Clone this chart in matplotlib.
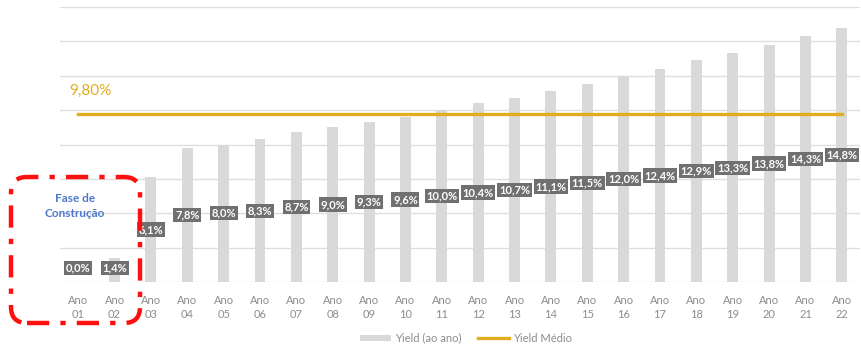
import matplotlib.pyplot as plt
import matplotlib.patches as mpatches
import numpy as np

plt.rcParams['font.family'] = ['Lato', 'DejaVu Sans']

anos = ['01', '02', '03', '04', '05', '06', '07', '08', '09', '10', '11',
        '12', '13', '14', '15', '16', '17', '18', '19', '20', '21', '22']
yield_ano = [0.0, 1.4, 6.1, 7.8, 8.0, 8.3, 8.7, 9.0, 9.3, 9.6, 10.0,
             10.4, 10.7, 11.1, 11.5, 12.0, 12.4, 12.9, 13.3, 13.8, 14.3, 14.8]
yield_medio = 9.80

gray_bar = '#d9d9d9'
gold = '#e2ac1e'
grid_c = '#dedede'

fig = plt.figure(figsize=(8.62, 3.44), dpi=100)
ax = fig.add_axes([60 / 862, 62 / 344, 800 / 862, 275 / 344])

x = np.arange(len(anos))
bars = ax.bar(x, yield_ano, width=0.3, color=gray_bar, zorder=2)
line, = ax.plot([x[0], x[-1]], [yield_medio, yield_medio], color=gold, lw=2.4,
                zorder=3)

ax.set_xlim(-0.5, len(anos) - 0.5)
ax.set_ylim(0, 16)
ax.set_yticks(np.arange(0, 17, 2))
ax.yaxis.grid(True, color=grid_c, lw=1)
ax.set_axisbelow(True)
ax.tick_params(axis='y', left=False, right=False, length=0, labelleft=False)
ax.tick_params(axis='x', bottom=False, pad=6)
for s in ax.spines.values():
    s.set_visible(False)
ax.set_xticks(x)
ax.set_xticklabels(['Ano\n' + a for a in anos], color='#8c8c8c', fontsize=8,
                   linespacing=1.35)

ax.text(-0.25, yield_medio + 1.3, f'{yield_medio:.2f}%'.replace('.', ','),
        color=gold, fontsize=11, ha='left', va='center')

# data labels sit on a secondary scale twice as tall as the bars
ax2 = ax.twinx()
ax2.set_ylim(0, 32)
ax2.axis('off')
for xi, v in zip(x, yield_ano):
    ax2.text(xi, max(v, 1.6), f'{v:.1f}%'.replace('.', ','), ha='center',
             va='center', color='white', fontsize=8, fontweight='bold',
             zorder=5,
             bbox=dict(boxstyle='square,pad=0.15', fc='#707070', ec='none'))

# construction phase frame
frame = mpatches.FancyBboxPatch((11, 21), 129, 146,
                                boxstyle='round,pad=0,rounding_size=16',
                                transform=None, fill=False, ec='#ff1010',
                                lw=3.2, ls=(0, (5, 2.5, 1.2, 2.5)), zorder=10)
fig.patches.append(frame)
fig.text(75 / 862, 1 - 206 / 344, 'Fase de\nConstrução', color='#4f78cc',
         fontsize=8.5, fontweight='bold', ha='center', va='center',
         linespacing=1.35)

fig.legend([bars, line], ['Yield (ao ano)', 'Yield Médio'], loc='center',
           bbox_to_anchor=(466 / 862, 1 - 338 / 344), ncol=2, frameon=False,
           fontsize=8, labelcolor='#8c8c8c', handlelength=2.8,
           handleheight=0.45, handletextpad=0.4, columnspacing=1.4)

fig.savefig('out.png', dpi=100, facecolor='white')
